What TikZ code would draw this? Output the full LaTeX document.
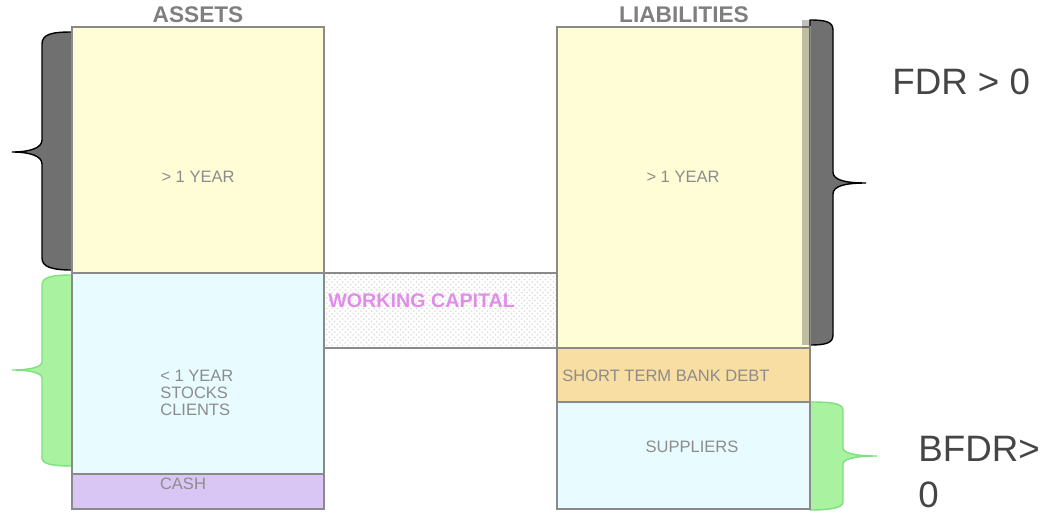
\documentclass[tikz,border=0pt]{standalone}
\usepackage{fontspec}
\setmainfont{Liberation Sans}
\usepackage{tikz}
\usetikzlibrary{patterns}

\definecolor{boxline}{HTML}{8A8A8A}
\definecolor{boxgray}{HTML}{8C8C8C}
\definecolor{headgray}{HTML}{7F7F7F}
\definecolor{ratiogray}{HTML}{454545}
\definecolor{longfill}{HTML}{FFFDD6}
\definecolor{shortfill}{HTML}{E8FCFF}
\definecolor{cashfill}{HTML}{D9C6F5}
\definecolor{bankfill}{HTML}{F8DEA2}
\definecolor{wcviolet}{HTML}{E28CEA}
\definecolor{bracedark}{HTML}{707070}
\definecolor{bracegreen}{HTML}{A8F2A0}
\definecolor{greenline}{HTML}{80E080}

\tikzset{
  box/.style={draw=boxline, line width=1.1pt},
  boxtext/.style={text=boxgray, font=\fontsize{9.4}{9.9}\selectfont, align=left, inner sep=0pt},
  header/.style={text=headgray, font=\fontsize{12.9}{14}\selectfont\bfseries, inner sep=0pt},
  ratio/.style={text=ratiogray, font=\fontsize{20.9}{26.6}\selectfont, align=left, inner sep=0pt},
  darkbrace/.style={fill=bracedark, draw=black, line width=0.8pt},
  greenbrace/.style={fill=bracegreen, draw=greenline, line width=0.8pt}
}

\begin{document}
\begin{tikzpicture}[x=0.02cm, y=-0.02cm]
   \useasboundingbox (0,0) rectangle (1046,514);

   % braces
   \draw[darkbrace] (72,32) .. controls (52,32) and (42,34) .. (42,44) -- (42,140)
      .. controls (42,148) and (30,152) .. (12,152) .. controls (30,152) and (42,156) .. (42,164)
      -- (42,258) .. controls (42,267) and (52,270) .. (72,270) -- cycle;
   \draw[greenbrace] (72,275) .. controls (52,275) and (42,277) .. (42,285) -- (42,362)
      .. controls (42,367) and (30,370) .. (12,370) .. controls (30,370) and (42,373) .. (42,378)
      -- (42,458) .. controls (42,464) and (52,466) .. (72,466) -- cycle;
   \draw[darkbrace] (810,20) .. controls (826,20) and (833,22) .. (833,30) -- (833,172)
      .. controls (833,180) and (845,183) .. (866,183) .. controls (845,183) and (833,186) .. (833,194)
      -- (833,335) .. controls (833,343) and (826,345) .. (810,345) -- cycle;
   \draw[greenbrace] (810,402) .. controls (830,402) and (843,403) .. (843,410) -- (843,448)
      .. controls (843,453) and (855,456) .. (877,456) .. controls (855,456) and (843,459) .. (843,464)
      -- (843,502) .. controls (843,508) and (830,510) .. (810,510) -- cycle;

   % working capital
   \fill[pattern=crosshatch dots, pattern color=gray!30] (324,273) rectangle (557,348);
   \draw[box] (324,273) rectangle (557,348);
   \draw (328,301) node[anchor=west, inner sep=0pt, text=wcviolet, font=\fontsize{11.2}{12}\selectfont\bfseries] (wc) {WORKING CAPITAL};

   % assets
   \draw[box, fill=longfill] (72,27) rectangle (324,273);
   \draw[box, fill=shortfill] (72,273) rectangle (324,474);
   \draw[box, fill=cashfill] (72,474) rectangle (324,509);

   % liabilities
   \draw[box, fill=longfill] (557,27) rectangle (810,348);
   \draw[box, fill=bankfill] (557,348) rectangle (810,402);
   \draw[box, fill=shortfill] (557,402) rectangle (810,509);
   \fill[black, fill opacity=0.25] (802,20) rectangle (810,345);

   \draw (198,15) node[header] (assets) {ASSETS};
   \draw (684,15) node[header] (liab) {LIABILITIES};

   \draw (198,177) node[boxtext] (along) {> 1 YEAR};
   \draw (160,393) node[boxtext, anchor=west] (ashort) {< 1 YEAR\\STOCKS\\CLIENTS};
   \draw (183,484) node[boxtext] (cash) {CASH};
   \draw (683,177) node[boxtext] (llong) {> 1 YEAR};
   \draw (562,376) node[boxtext, anchor=west] (bank) {SHORT TERM BANK DEBT};
   \draw (692,447) node[boxtext] (supp) {SUPPLIERS};

   \draw (892,82) node[ratio, anchor=west] (fdr) {FDR > 0};
   \draw (918,472) node[ratio, anchor=west] (bfdr) {BFDR>\\0};
\end{tikzpicture}
\end{document}
